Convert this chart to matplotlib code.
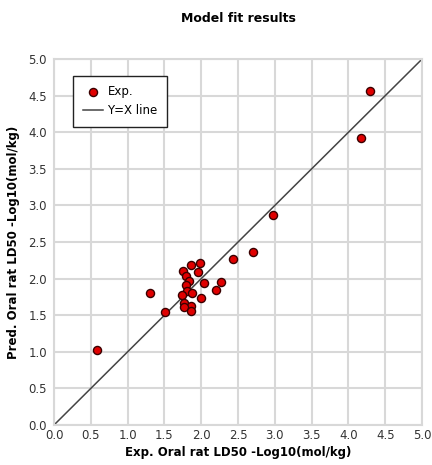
import matplotlib
matplotlib.use("Agg")
import matplotlib.pyplot as plt
import numpy as np

plt.rcParams['font.family'] = ['DejaVu Sans']

# experimental vs predicted values
exp_vals = [0.58, 1.30, 1.51, 1.75, 1.86, 1.99, 1.95, 1.79, 1.83, 2.04,
            1.79, 2.27, 2.20, 1.80, 1.87, 1.74, 2.00, 1.76, 1.86, 1.76,
            1.86, 2.43, 2.70, 2.98, 4.17, 4.29]
pred_vals = [1.02, 1.80, 1.55, 2.10, 2.18, 2.21, 2.09, 2.04, 1.97, 1.94,
             1.91, 1.96, 1.84, 1.83, 1.80, 1.77, 1.74, 1.67, 1.63, 1.61,
             1.56, 2.27, 2.37, 2.87, 3.92, 4.57]
ticks = np.arange(0, 5.01, 0.5)

fig = plt.figure(figsize=(4.32, 4.65), dpi=100)
ax = fig.add_axes([0.125, 0.086, 0.852, 0.787])

ax.plot([0, 5], [0, 5], color='#444444', lw=1.1, label='Y=X line', zorder=2)
ax.scatter(exp_vals, pred_vals, s=34, c='#e00000', edgecolors='#3a0000',
           linewidths=1.0, label='Exp.', zorder=3)

ax.set_xlim(0, 5)
ax.set_ylim(0, 5)
ax.set_xticks(ticks)
ax.set_yticks(ticks)
ax.set_xticklabels([f"{t:.1f}" for t in ticks])
ax.set_yticklabels([f"{t:.1f}" for t in ticks])
ax.tick_params(length=0, labelsize=8.5, colors='#333333')
ax.tick_params(axis='x', pad=3)
ax.tick_params(axis='y', pad=5)
ax.grid(True, color='#d8d8d8', lw=1.5)
ax.set_axisbelow(True)
for s in ax.spines.values():
    s.set_color('#d8d8d8')
    s.set_linewidth(1.5)

ax.set_xlabel('Exp. Oral rat LD50 -Log10(mol/kg)', fontsize=8.5, fontweight='bold', labelpad=3)
ax.set_ylabel('Pred. Oral rat LD50 -Log10(mol/kg)', fontsize=8.5, fontweight='bold', labelpad=6)
ax.set_title('Model fit results', fontsize=9, fontweight='bold', pad=27)

handles, labels = ax.get_legend_handles_labels()
leg = ax.legend(handles[::-1], labels[::-1], loc='upper left', fontsize=8.5,
                fancybox=False, framealpha=1, edgecolor='#222222',
                bbox_to_anchor=(0.052, 0.954), borderpad=0.8, handlelength=1.7,
                handletextpad=0.4, scatterpoints=1, borderaxespad=0)
leg.get_frame().set_linewidth(1.0)

fig.savefig('out.png', dpi=100)
